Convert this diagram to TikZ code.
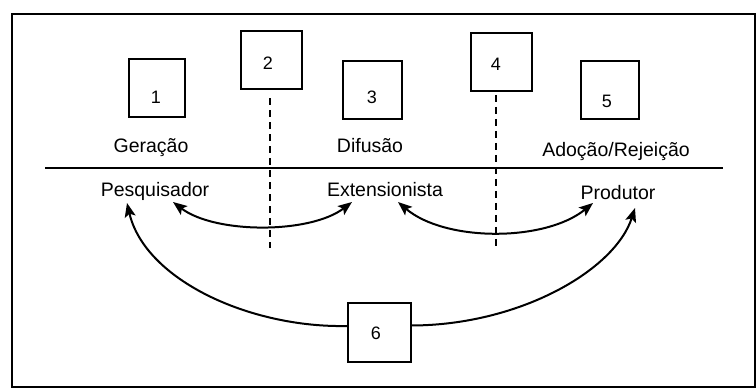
\documentclass[tikz,border=0pt]{standalone}
\usepackage{fontspec}
\setmainfont{Liberation Sans}
\usetikzlibrary{arrows.meta}
\begin{document}
\begin{tikzpicture}[x=1pt,y=-1pt,
  >={Stealth[length=14pt,width=11pt,inset=3pt]},
  box/.style={draw, line width=2pt, inner sep=0pt, minimum height=58pt},
  lab/.style={font=\fontsize{19.5}{22}\selectfont, anchor=base, inner sep=0pt},
  num/.style={font=\fontsize{18}{20}\selectfont, anchor=base, inner sep=0pt},
  link/.style={line width=2pt},
  divider/.style={line width=2.2pt, dash pattern=on 7pt off 5pt},
]
\useasboundingbox (0,0) rectangle (756,390);
% outer frame
\draw[line width=2pt] (12,14) rectangle (754.5,387);

% numbered boxes
\node[box, minimum width=56pt] (b1) at (157,88.5) {};
\node[box, minimum width=61pt] (b2) at (271,60.5) {};
\node[box, minimum width=59pt] (b3) at (372.5,90) {};
\node[box, minimum width=61pt] (b4) at (501,62) {};
\node[box, minimum width=58pt] (b5) at (610,90) {};
\node[box, minimum width=63pt, minimum height=59pt] (b6) at (379.5,332.5) {};

\node[num] (n1) at (156,104) {1};
\node[num] (n2) at (268,70) {2};
\node[num] (n3) at (372,104) {3};
\node[num] (n4) at (496,71) {4};
\node[num] (n5) at (607,108) {5};
\node[num] (n6) at (376,340) {6};

% stage names above the rule
\node[lab] (ger) at (151,153) {Geração};
\node[lab] (dif) at (370,153) {Difusão};
\node[lab] (ado) at (616,157) {Adoção/Rejeição};

% actors below the rule
\node[lab] (pes) at (155,197) {Pesquisador};
\node[lab] (ext) at (385,197) {Extensionista};
\node[lab] (pro) at (618,200) {Produtor};

% horizontal rule
\coordinate (ruleL) at (45,168);
\coordinate (ruleR) at (723,168);
\draw[line width=2pt] (ruleL) -- (ruleR);

% dashed dividers between stages
\coordinate (d2) at (270,248);
\coordinate (d4) at (496,250);
\draw[divider] (b2.south) ++(-1,8) -- (d2);
\draw[divider] (b4.south) ++(-5,3) -- (d4);

% arrow end points
\coordinate (pesR) at (173,202);
\coordinate (extL) at (352,202);
\coordinate (extR) at (398,202);
\coordinate (proL) at (593,203);
\coordinate (pesB) at (127,203);
\coordinate (proB) at (635,208);

% two-way exchanges
\draw[link, <->] (pesR) .. controls (215,234) and (310,234) .. (extL);
\draw[link, <->] (extR) .. controls (445,242) and (545,242) .. (proL);

% feedback through box 6
\draw[link, ->] ([yshift=6.5pt]b6.west) .. controls (250,328) and (145,280) .. (pesB);
\draw[link, ->] ([yshift=7pt]b6.east) .. controls (520,325) and (615,270) .. (proB);
\end{tikzpicture}
\end{document}
